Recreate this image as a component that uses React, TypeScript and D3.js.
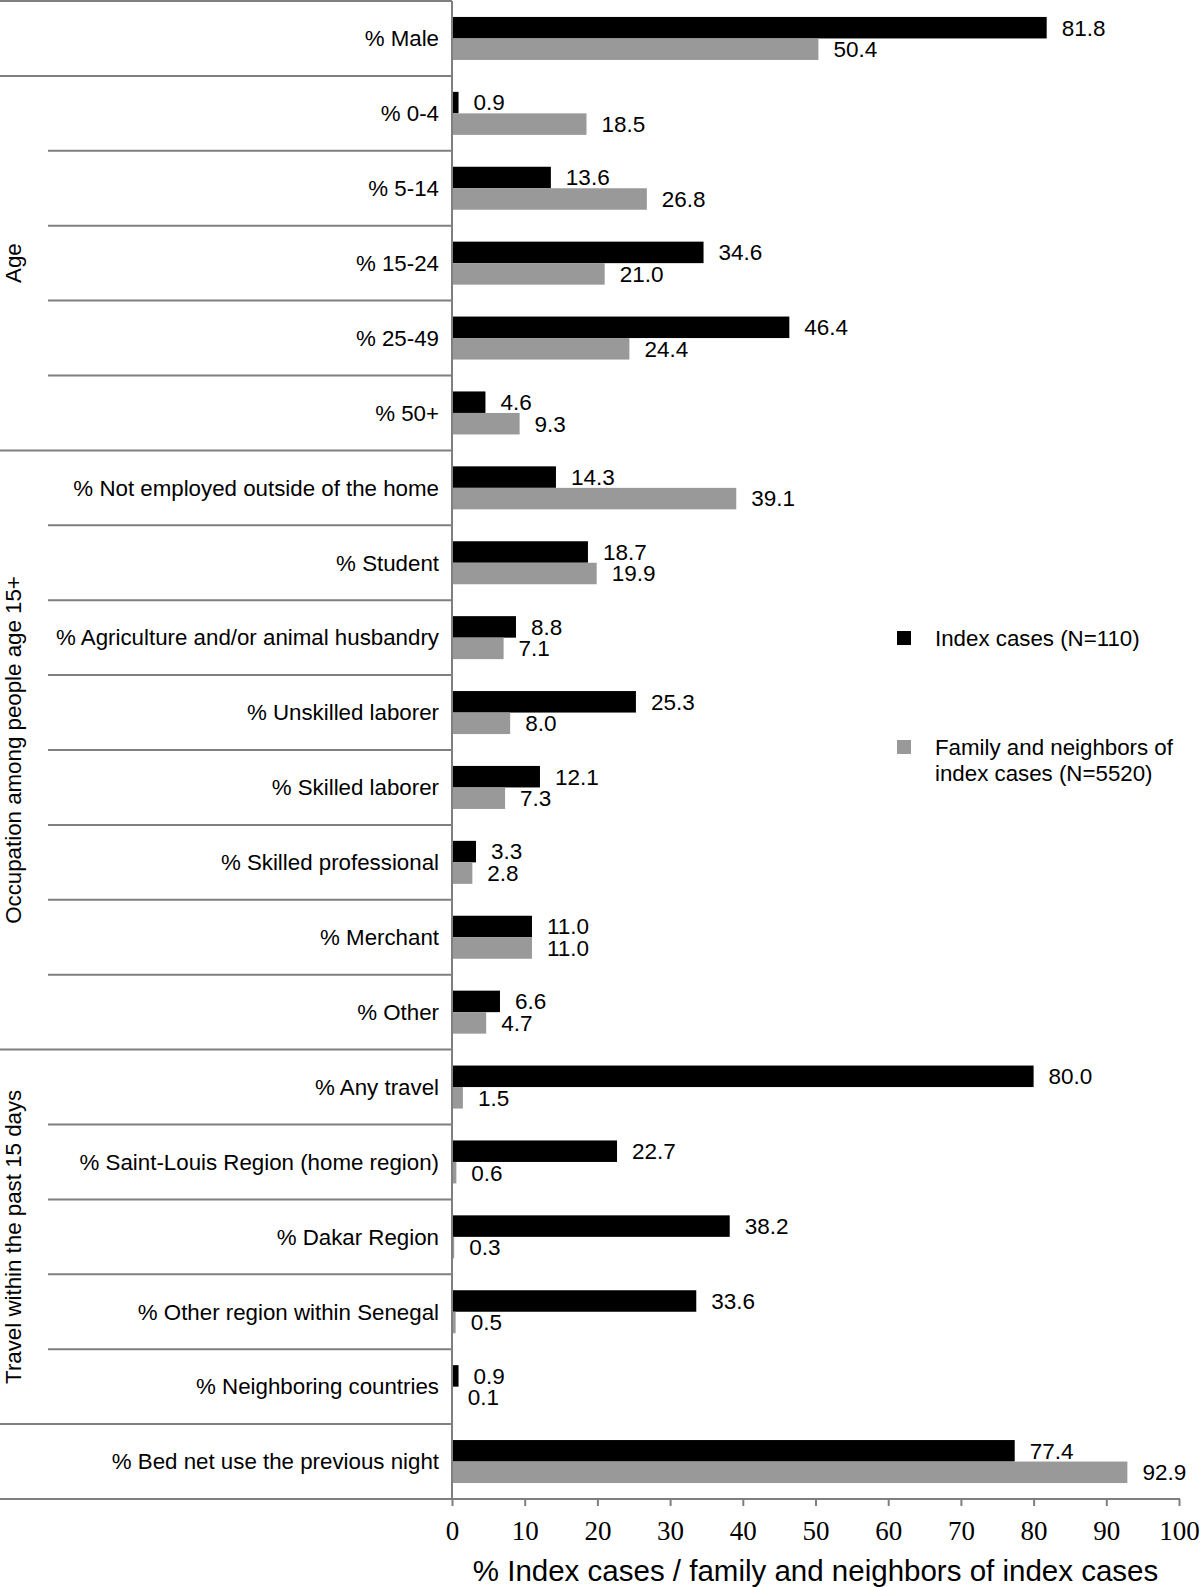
import React, { useEffect, useRef } from 'react';
import * as d3 from 'd3';

const categories = [
  '% Male',
  '% 0-4',
  '% 5-14',
  '% 15-24',
  '% 25-49',
  '% 50+',
  '% Not employed outside of the home',
  '% Student',
  '% Agriculture and/or animal husbandry',
  '% Unskilled laborer',
  '% Skilled laborer',
  '% Skilled professional',
  '% Merchant',
  '% Other',
  '% Any travel',
  '% Saint-Louis Region (home region)',
  '% Dakar Region',
  '% Other region within Senegal',
  '% Neighboring countries',
  '% Bed net use the previous night',
];

const indexCases = [81.8, 0.9, 13.6, 34.6, 46.4, 4.6, 14.3, 18.7, 8.8, 25.3, 12.1, 3.3, 11.0, 6.6, 80.0, 22.7, 38.2, 33.6, 0.9, 77.4];
const familyNeighbors = [50.4, 18.5, 26.8, 21.0, 24.4, 9.3, 39.1, 19.9, 7.1, 8.0, 7.3, 2.8, 11.0, 4.7, 1.5, 0.6, 0.3, 0.5, 0.1, 92.9];

// groups: [label, first row, last row]
const groups: [string, number, number][] = [
  ['Age', 1, 5],
  ['Occupation among people age 15+', 6, 13],
  ['Travel within the past 15 days', 14, 18],
];

const xTicks = [0, 10, 20, 30, 40, 50, 60, 70, 80, 90, 100];

const legendItems = [
  { lines: ['Index cases (N=110)'], color: '#000' },
  { lines: ['Family and neighbors of', 'index cases (N=5520)'], color: '#999' },
];

const W = 1200;
const H = 1587;
const SANS = 'Liberation Sans, Arial, Helvetica, sans-serif';

const App: React.FC = () => {
  const svgRef = useRef<SVGSVGElement>(null);

  useEffect(() => {
    document.body.style.margin = '0';
    if (!svgRef.current) return;
    const svg = d3.select(svgRef.current);
    svg.selectAll('*').remove();

    const x0 = 452;
    const top = 1;
    const bottom = 1499;
    const lineColor = '#7f7f7f';

    const x = d3.scaleLinear().domain([0, 100]).range([x0, 1179]);
    const y = d3.scaleBand<number>().domain(d3.range(categories.length)).range([top, bottom]);
    const barH = 21.5;

    // separators
    const groupStarts = new Set(groups.map((g) => g[1]));
    const seps = d3.range(0, categories.length);
    svg.append('g')
      .selectAll('line')
      .data(seps)
      .enter()
      .append('line')
      .attr('x1', (i) => (i === 0 || groupStarts.has(i) || i === 19 ? 0 : 48))
      .attr('x2', x0)
      .attr('y1', (i) => y(i)!)
      .attr('y2', (i) => y(i)!)
      .attr('stroke', lineColor)
      .attr('stroke-width', 2);

    // bars
    const rows = svg.append('g')
      .selectAll('g')
      .data(categories)
      .enter()
      .append('g')
      .attr('transform', (_, i) => `translate(0,${y(i)! + y.bandwidth() / 2})`);

    rows.append('rect')
      .attr('x', x0)
      .attr('y', -barH)
      .attr('width', (_, i) => x(indexCases[i]) - x0)
      .attr('height', barH)
      .attr('fill', '#000');

    rows.append('rect')
      .attr('x', x0)
      .attr('y', 0)
      .attr('width', (_, i) => x(familyNeighbors[i]) - x0)
      .attr('height', barH)
      .attr('fill', '#999');

    rows.append('text')
      .attr('x', (_, i) => x(indexCases[i]) + 15)
      .attr('y', -barH / 2)
      .attr('dy', '0.35em')
      .text((_, i) => indexCases[i].toFixed(1))
      .attr('font-family', SANS)
      .attr('font-size', 22.5);

    rows.append('text')
      .attr('x', (_, i) => x(familyNeighbors[i]) + 15)
      .attr('y', barH / 2)
      .attr('dy', '0.35em')
      .text((_, i) => familyNeighbors[i].toFixed(1))
      .attr('font-family', SANS)
      .attr('font-size', 22.5);

    rows.append('text')
      .attr('x', x0 - 13)
      .attr('y', 0)
      .attr('dy', '0.35em')
      .attr('text-anchor', 'end')
      .text((d) => d)
      .attr('font-family', SANS)
      .attr('font-size', 22.3);

    // group labels
    svg.append('g')
      .selectAll('text')
      .data(groups)
      .enter()
      .append('text')
      .attr('transform', (g) => {
        const cy = (y(g[1])! + y(g[2])! + y.bandwidth()) / 2;
        return `translate(13,${cy}) rotate(-90)`;
      })
      .attr('text-anchor', 'middle')
      .attr('dy', '0.35em')
      .text((g) => g[0])
      .attr('font-family', SANS)
      .attr('font-size', 22.3);

    // vertical axis line
    svg.append('line')
      .attr('x1', x0).attr('x2', x0)
      .attr('y1', top).attr('y2', bottom)
      .attr('stroke', lineColor).attr('stroke-width', 2);

    // x axis
    const axis = svg.append('g')
      .attr('transform', `translate(0,${bottom})`)
      .call(d3.axisBottom(x).tickValues(xTicks).tickSize(7).tickPadding(15).tickFormat(d3.format('d')));
    axis.select('.domain').remove();
    axis.selectAll('line').attr('stroke', lineColor).attr('stroke-width', 2);
    axis.selectAll('text')
      .attr('font-family', 'Liberation Serif, Times New Roman, serif')
      .attr('font-size', 27)
      .attr('fill', '#000');
    axis.append('line')
      .attr('x1', 0).attr('x2', x(100) + 1)
      .attr('y1', 0).attr('y2', 0)
      .attr('stroke', lineColor).attr('stroke-width', 2);

    svg.append('text')
      .attr('x', (x(0) + x(100)) / 2)
      .attr('y', 1581)
      .attr('text-anchor', 'middle')
      .text('% Index cases / family and neighbors of index cases')
      .attr('font-family', SANS)
      .attr('font-size', 29.5);

    // legend
    const legend = svg.append('g')
      .selectAll('g')
      .data(legendItems)
      .enter()
      .append('g')
      .attr('transform', (_, i) => `translate(897,${i === 0 ? 638 : 747})`);
    legend.append('rect')
      .attr('x', 0).attr('y', -7).attr('width', 14).attr('height', 14)
      .attr('fill', (d) => d.color);
    legend.each(function (d) {
      d3.select(this)
        .selectAll('text')
        .data(d.lines)
        .enter()
        .append('text')
        .attr('x', 38)
        .attr('y', (_, j) => j * 26)
        .attr('dy', '0.35em')
        .text((t) => t)
        .attr('font-family', SANS)
        .attr('font-size', 22.3);
    });
  }, []);

  return <svg ref={svgRef} width={W} height={H} viewBox={`0 0 ${W} ${H}`} style={{ display: 'block', background: '#fff' }} />;
};

export default App;
